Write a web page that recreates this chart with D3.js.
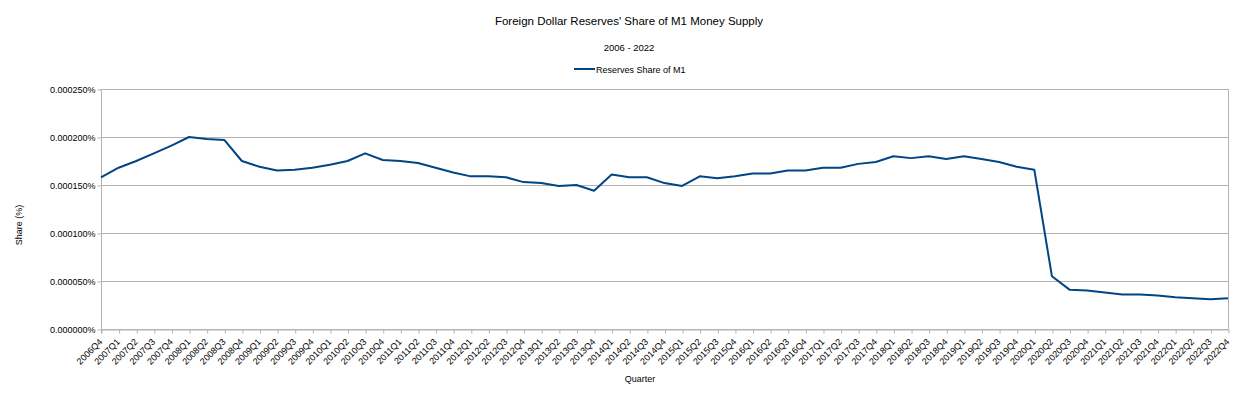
<!DOCTYPE html>
<html>
<head>
<meta charset="utf-8">
<script src="https://cdn.jsdelivr.net/npm/d3@7"></script>
<style>
  body { margin: 0; background: #fff; }
  svg { display: block; font-family: "Liberation Sans", Arial, sans-serif; }
</style>
</head>
<body>
<svg id="chart" width="1258" height="398"></svg>
<script>
// quarters on the x axis
var quarters = [
  '2006Q4',
  '2007Q1', '2007Q2', '2007Q3', '2007Q4',
  '2008Q1', '2008Q2', '2008Q3', '2008Q4',
  '2009Q1', '2009Q2', '2009Q3', '2009Q4',
  '2010Q1', '2010Q2', '2010Q3', '2010Q4',
  '2011Q1', '2011Q2', '2011Q3', '2011Q4',
  '2012Q1', '2012Q2', '2012Q3', '2012Q4',
  '2013Q1', '2013Q2', '2013Q3', '2013Q4',
  '2014Q1', '2014Q2', '2014Q3', '2014Q4',
  '2015Q1', '2015Q2', '2015Q3', '2015Q4',
  '2016Q1', '2016Q2', '2016Q3', '2016Q4',
  '2017Q1', '2017Q2', '2017Q3', '2017Q4',
  '2018Q1', '2018Q2', '2018Q3', '2018Q4',
  '2019Q1', '2019Q2', '2019Q3', '2019Q4',
  '2020Q1', '2020Q2', '2020Q3', '2020Q4',
  '2021Q1', '2021Q2', '2021Q3', '2021Q4',
  '2022Q1', '2022Q2', '2022Q3', '2022Q4'
];

// reserves share of M1, in percent
var reservesShare = [
  0.000158,
  0.000168, 0.000175, 0.000183, 0.000191,
  0.000200, 0.000198, 0.000197, 0.000175,
  0.000169, 0.000165, 0.000166, 0.000168,
  0.000171, 0.000175, 0.000183, 0.000176,
  0.000175, 0.000173, 0.000168, 0.000163,
  0.000159, 0.000159, 0.000158, 0.000153,
  0.000152, 0.000149, 0.000150, 0.000144,
  0.000161, 0.000158, 0.000158, 0.000152,
  0.000149, 0.000159, 0.000157, 0.000159,
  0.000162, 0.000162, 0.000165, 0.000165,
  0.000168, 0.000168, 0.000172, 0.000174,
  0.000180, 0.000178, 0.000180, 0.000177,
  0.000180, 0.000177, 0.000174, 0.000169,
  0.000166, 0.000055, 0.000041, 0.000040,
  0.000038, 0.000036, 0.000036, 0.000035,
  0.000033, 0.000032, 0.000031, 0.000032
];

var yTicks = [0, 0.00005, 0.0001, 0.00015, 0.0002, 0.00025];

var svg = d3.select('#chart');
var gridColor = '#b3b3b3';
var lineColor = '#004586';

var margin = {left: 101, right: 30, top: 89, bottom: 69};
var width = 1258, height = 398;

var x = d3.scalePoint()
    .domain(quarters)
    .range([margin.left, width - margin.right]);

var y = d3.scaleLinear()
    .domain([0, 0.00025])
    .range([height - margin.bottom, margin.top]);

// titles
svg.append('text')
    .attr('x', 629).attr('y', 25)
    .attr('text-anchor', 'middle')
    .style('font-size', '11.5px')
    .text("Foreign Dollar Reserves' Share of M1 Money Supply");

svg.append('text')
    .attr('x', 629).attr('y', 51)
    .attr('text-anchor', 'middle')
    .style('font-size', '9.5px')
    .text('2006 - 2022');

// legend
svg.append('line')
    .attr('x1', 574).attr('x2', 595)
    .attr('y1', 69).attr('y2', 69)
    .attr('stroke', lineColor)
    .attr('stroke-width', 2);
svg.append('text')
    .attr('x', 596).attr('y', 72.5)
    .style('font-size', '9px')
    .text('Reserves Share of M1');

// grid
svg.append('g')
    .selectAll('line')
    .data(yTicks)
    .enter()
    .append('line')
    .attr('x1', margin.left)
    .attr('x2', width - margin.right)
    .attr('y1', function (d) { return Math.round(y(d)) + 0.5; })
    .attr('y2', function (d) { return Math.round(y(d)) + 0.5; })
    .attr('stroke', gridColor);

// y axis
var yAxis = d3.axisLeft(y)
    .tickValues(yTicks)
    .tickSize(4)
    .tickPadding(2)
    .tickFormat(function (d) { return d3.format('.6f')(d) + '%'; });

var yG = svg.append('g')
    .attr('transform', 'translate(' + (margin.left + 0.5) + ',0.5)')
    .call(yAxis);
yG.select('.domain').attr('stroke', gridColor).attr('d', 'M0,' + (y(0.00025) - 0.5) + 'V' + (y(0) + 4));
yG.selectAll('.tick line').attr('stroke', gridColor);
yG.selectAll('.tick text')
    .style('font-size', '9px')
    .style('font-family', '"Liberation Sans", Arial, sans-serif')
    .attr('fill', '#000');

// right border
svg.append('line')
    .attr('x1', width - margin.right + 0.5).attr('x2', width - margin.right + 0.5)
    .attr('y1', margin.top).attr('y2', height - margin.bottom)
    .attr('stroke', gridColor);

// x axis
var xAxis = d3.axisBottom(x)
    .tickSize(4)
    .tickSizeOuter(0);

var xG = svg.append('g')
    .attr('transform', 'translate(0.5,' + (height - margin.bottom + 0.5) + ')')
    .call(xAxis);
xG.select('.domain').attr('stroke', gridColor);
xG.selectAll('.tick line').attr('stroke', gridColor);
xG.selectAll('.tick text')
    .style('font-size', '9px')
    .style('font-family', '"Liberation Sans", Arial, sans-serif')
    .attr('fill', '#000')
    .attr('text-anchor', 'end')
    .attr('transform', 'translate(1,13) rotate(-45)')
    .attr('x', 0)
    .attr('y', 0)
    .attr('dy', 0);

// axis titles
svg.append('text')
    .attr('transform', 'translate(22,225) rotate(-90)')
    .attr('text-anchor', 'middle')
    .style('font-size', '9px')
    .text('Share (%)');

svg.append('text')
    .attr('x', 640).attr('y', 382)
    .attr('text-anchor', 'middle')
    .style('font-size', '9px')
    .text('Quarter');

// series line
var line = d3.line()
    .x(function (d, i) { return x(quarters[i]); })
    .y(function (d) { return y(d); });

svg.append('path')
    .datum(reservesShare)
    .attr('fill', 'none')
    .attr('stroke', lineColor)
    .attr('stroke-width', 2)
    .attr('stroke-linejoin', 'round')
    .attr('d', line);
</script>
</body>
</html>
